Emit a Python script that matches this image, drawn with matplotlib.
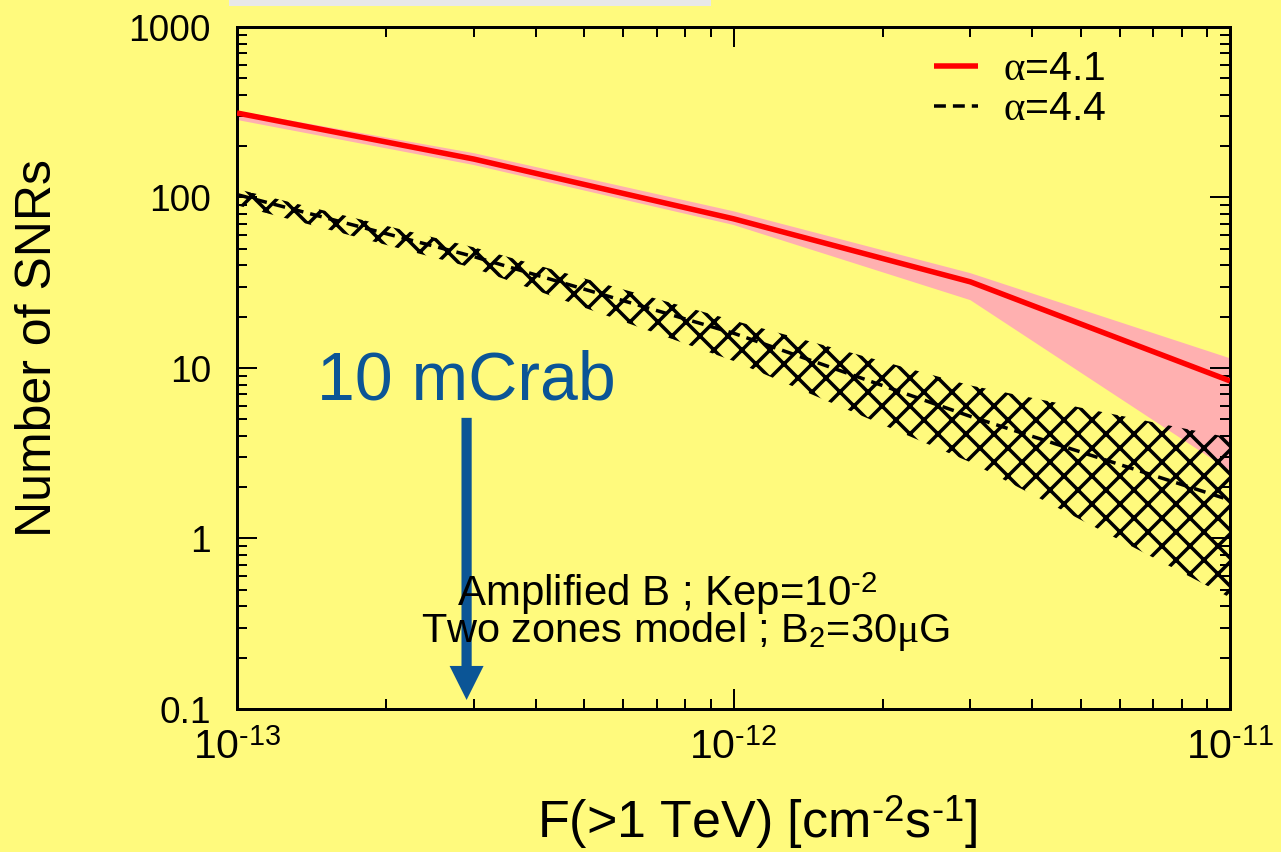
import matplotlib
matplotlib.use("Agg")
import matplotlib.pyplot as plt
from matplotlib.patches import Rectangle
from matplotlib.ticker import FixedLocator, FixedFormatter, LogLocator, NullFormatter

# Cumulative number of SNRs above a given flux F(>1 TeV)
flux = [1e-13, 3e-13, 1e-12, 3e-12, 1e-11]
n_a41 = [313, 168, 75, 32, 8.4]
n_a41_hi = [322, 182, 83, 36, 11.4]
n_a41_lo = [285, 155, 69, 25, 2.5]
n_a44 = [104, 45, 16, 5.2, 1.68]
n_a44_hi = [112, 51, 19, 7.9, 3.9]
n_a44_lo = [90, 38.5, 11, 2.8, 0.45]

labels = [r"$\alpha$=4.1", r"$\alpha$=4.4"]
x_ticks = [1e-13, 1e-12, 1e-11]
x_ticklabels = [r"$10^{\text{-13}}$", r"$10^{\text{-12}}$", r"$10^{\text{-11}}$"]
y_ticks = [0.1, 1, 10, 100, 1000]
y_ticklabels = ["0.1", "1", "10", "100", "1000"]
crab10_flux = 2.9e-13

DPI = 168
PT = 72 / DPI  # points per pixel
W, H = 1281, 852

plt.rcParams["font.family"] = ["Liberation Sans", "DejaVu Sans"]
plt.rcParams["mathtext.fontset"] = "custom"
plt.rcParams["mathtext.rm"] = "Liberation Sans"
plt.rcParams["mathtext.it"] = "Liberation Serif"
plt.rcParams["mathtext.bf"] = "Liberation Sans:bold"
plt.rcParams["hatch.linewidth"] = 3.5 * PT

bg = "#fffa7d"
pink = "#ffb0b0"
blue = "#0b5596"

fig = plt.figure(figsize=((W + 0.01) / DPI, (H + 0.01) / DPI), dpi=DPI)
fig.patch.set_facecolor(bg)

# light grey strip at the top of the slide
fig.add_artist(Rectangle((229 / W, 1 - 6 / H), 482 / W, 6 / H + 0.002,
                         transform=fig.transFigure, facecolor="#e8e8e8",
                         edgecolor="none"))

ax = fig.add_axes([237 / W, 1 - 709 / H, (1230 - 237) / W, (709 - 27) / H])
ax.set_facecolor(bg)
ax.set_xscale("log")
ax.set_yscale("log")
ax.set_xlim(1e-13, 1e-11)
ax.set_ylim(0.1, 1000)

ax.fill_between(flux, n_a41_lo, n_a41_hi, facecolor=pink, edgecolor="none",
                linewidth=0, zorder=1)
ax.fill_between(flux, n_a44_lo, n_a44_hi, facecolor="none", edgecolor="black",
                hatch="xx", linewidth=0, zorder=2)
ax.plot(flux, n_a41, color="red", lw=5.5 * PT, label=labels[0], zorder=4,
        solid_capstyle="butt")
ax.plot(flux, n_a44, color="black", lw=3.5 * PT, dashes=(3.4, 2.0),
        label=labels[1], zorder=4)

# 10 mCrab sensitivity marker
ax.annotate("", xy=(crab10_flux, 0.113), xytext=(crab10_flux, 5.1),
            arrowprops=dict(arrowstyle="simple,head_length=0.5,head_width=0.5,tail_width=0.15",
                            mutation_scale=68 * PT, facecolor=blue, edgecolor=blue,
                            lw=0, shrinkA=0, shrinkB=0), zorder=5)
ax.text(crab10_flux, 6.5, "10 mCrab", color=blue, fontsize=68 * PT,
        ha="center", va="baseline", zorder=5)

# axis ticks
ax.xaxis.set_major_locator(FixedLocator(x_ticks))
ax.xaxis.set_major_formatter(FixedFormatter(x_ticklabels))
ax.xaxis.set_minor_locator(LogLocator(base=10, subs=range(2, 10), numticks=20))
ax.xaxis.set_minor_formatter(NullFormatter())
ax.yaxis.set_major_locator(FixedLocator(y_ticks))
ax.yaxis.set_major_formatter(FixedFormatter(y_ticklabels))
ax.yaxis.set_minor_locator(LogLocator(base=10, subs=range(2, 10), numticks=20))
ax.yaxis.set_minor_formatter(NullFormatter())

ax.tick_params(which="both", direction="in", top=True, right=True, width=2 * PT)
ax.tick_params(which="major", length=20 * PT)
ax.tick_params(which="minor", length=10 * PT)
ax.tick_params(axis="y", which="major", labelsize=37 * PT, pad=26 * PT)
ax.tick_params(axis="x", which="major", labelsize=41 * PT, pad=20 * PT)
for sp in ax.spines.values():
    sp.set_linewidth(3 * PT)

leg = ax.legend(loc="upper left", bbox_to_anchor=((934 - 237) / 993, (709 - 50) / 682),
                frameon=False, fontsize=41 * PT, handlelength=44 / 41,
                handletextpad=25 / 41, labelspacing=0.05, borderpad=0,
                borderaxespad=0)

fig.text(667 / W, 1 - 606 / H, r"Amplified B ; Kep=10$^{\text{-2}}$", fontsize=42 * PT,
         ha="center", va="baseline")
fig.text(685 / W, 1 - 642 / H, r"Two zones model ; B$_2$=30$\mu$G", fontsize=41.5 * PT,
         ha="center", va="baseline")

fig.text(757 / W, 1 - 822 / H, r"F(>1 TeV) [cm$^{\text{-2}}$s$^{\text{-1}}$]",
         fontsize=52 * PT, ha="center", va="center")
fig.text(38 / W, 1 - 348 / H, "Number of SNRs", fontsize=50 * PT, rotation=90,
         ha="center", va="center")

fig.savefig("out.png", dpi=DPI, facecolor=bg)
